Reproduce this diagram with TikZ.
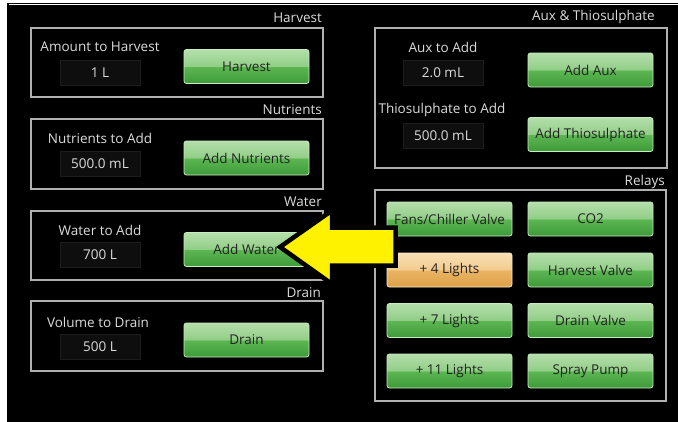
\documentclass[tikz,border=0pt]{standalone}
\usepackage{fontspec}
\setmainfont{Open Sans}
\definecolor{lblgray}{HTML}{DCDCDC}
\definecolor{panelgray}{HTML}{B0B0B0}
\definecolor{valfill}{HTML}{0E0E0E}
\definecolor{valedge}{HTML}{1C1C1C}
\definecolor{btntext}{HTML}{222222}
\definecolor{gtop}{HTML}{B4DEAA}
\definecolor{gupmid}{HTML}{92CE88}
\definecolor{glowmid}{HTML}{5CB652}
\definecolor{gbot}{HTML}{3E9A39}
\definecolor{gborder}{HTML}{C8EBC0}
\definecolor{otop}{HTML}{F8E0B4}
\definecolor{oupmid}{HTML}{F2CC90}
\definecolor{olowmid}{HTML}{EAB464}
\definecolor{obot}{HTML}{DDA048}
\definecolor{oborder}{HTML}{FBEBCB}
\definecolor{arrowyellow}{HTML}{FFF200}
\pgfdeclareverticalshading{greenbtn}{100bp}{color(0bp)=(gbot); color(25bp)=(gbot); color(49.5bp)=(glowmid); color(50.5bp)=(gupmid); color(75bp)=(gtop); color(100bp)=(gtop)}
\pgfdeclareverticalshading{orangebtn}{100bp}{color(0bp)=(obot); color(25bp)=(obot); color(49.5bp)=(olowmid); color(50.5bp)=(oupmid); color(75bp)=(otop); color(100bp)=(otop)}
\newcommand\uifont{\fontsize{13.5}{16}\selectfont}
\begin{document}
\begin{tikzpicture}[x=1pt,y=-1pt,
  panel/.style={draw=panelgray, line width=1.6pt},
  title/.style={text=lblgray, font=\uifont, anchor=east, inner sep=0pt},
  lbl/.style={text=lblgray, font=\uifont, inner sep=0pt},
  valbox/.style={fill=valfill, draw=valedge, line width=0.6pt, minimum width=80pt, minimum height=25pt, inner sep=0pt, text=lblgray, font=\uifont},
  btn/.style={rounded corners=2.5pt, draw=gborder, line width=0.8pt, shade, shading=greenbtn, minimum width=125pt, minimum height=34pt, inner sep=0pt, text=btntext, font=\uifont},
  obtn/.style={btn, draw=oborder, shading=orangebtn}]
\useasboundingbox (0,0) rectangle (678,421);
\fill[black] (-3,-3) rectangle (681,424);
% white frame edges
\fill[white] (-3,-3) rectangle (681,3);
\fill[white] (-3,-3) rectangle (7,424);
\draw[white, line width=1.3pt] (9,4.8) -- (681,4.8);

% Harvest
\node[title] (tHarv) at (322,18) {Harvest};
\draw[panel] (31,28) rectangle (323,97);
\node[lbl] (lHarv) at (100,47) {Amount to Harvest};
\node[valbox] (vHarv) at (100,72.5) {1 L};
\node[btn] (bHarv) at (246.5,66.5) {Harvest};

% Nutrients
\node[title] (tNut) at (322,110) {Nutrients};
\draw[panel] (31,119) rectangle (323,189);
\node[lbl] (lNut) at (100,138) {Nutrients to Add};
\node[valbox] (vNut) at (100,163.5) {500.0 mL};
\node[btn] (bNut) at (246.5,158) {Add Nutrients};

% Water
\node[title] (tWat) at (322,202) {Water};
\draw[panel] (31,211) rectangle (323,280);
\node[lbl] (lWat) at (100,230) {Water to Add};
\node[valbox] (vWat) at (100,255) {700 L};
\node[btn] (bWat) at (246.5,249.5) {Add Water};

% Drain
\node[title] (tDrn) at (321,293) {Drain};
\draw[panel] (31,301) rectangle (323,371);
\node[lbl] (lDrn) at (98,322) {Volume to Drain};
\node[valbox] (vDrn) at (100,347) {500 L};
\node[btn] (bDrn) at (246.5,340) {Drain};

% Aux & Thiosulphate
\node[title] (tAux) at (655,17) {Aux \& Thiosulphate};
\draw[panel] (375,28) rectangle (667,168);
\node[lbl] (lAux) at (443,47) {Aux to Add};
\node[valbox] (vAux) at (443,72.5) {2.0 mL};
\node[btn] (bAux) at (590.5,70) {Add Aux};
\node[lbl] (lThio) at (442,110) {Thiosulphate to Add};
\node[valbox] (vThio) at (443,135.5) {500.0 mL};
\node[btn] (bThio) at (590.5,134.5) {Add Thiosulphate};

% Relays
\node[title] (tRel) at (665,182) {Relays};
\draw[panel] (375,190) rectangle (666,401);
\node[btn] (r1a) at (449.5,219) {Fans/Chiller Valve};
\node[btn] (r1b) at (590.5,219) {CO2};
\node[obtn] (r2a) at (449.5,270) {+ 4 Lights};
\node[btn] (r2b) at (590.5,270) {Harvest Valve};
\node[btn] (r3a) at (449.5,320.5) {+ 7 Lights};
\node[btn] (r3b) at (590.5,320.5) {Drain Valve};
\node[btn] (r4a) at (449.5,371) {+ 11 Lights};
\node[btn] (r4b) at (590.5,371) {Spray Pump};

% callout arrow
\coordinate (tip) at (280,247);
\filldraw[fill=arrowyellow, draw=black, line width=4.5pt, line join=miter]
  (tip) -- (332,210.5) -- (332,227.5) -- (395.5,227.5) -- (395.5,265.5)
  -- (332,265.5) -- (332,284) -- cycle;
\end{tikzpicture}
\end{document}
